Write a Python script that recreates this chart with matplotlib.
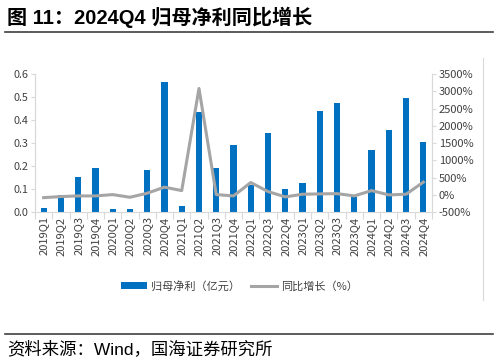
import matplotlib
matplotlib.use("Agg")
import matplotlib.pyplot as plt
from matplotlib.ticker import FixedLocator, FuncFormatter

plt.rcParams['font.family'] = ['Noto Sans CJK SC', 'DejaVu Sans']

quarters = ["2019Q1", "2019Q2", "2019Q3", "2019Q4", "2020Q1", "2020Q2", "2020Q3", "2020Q4",
            "2021Q1", "2021Q2", "2021Q3", "2021Q4", "2022Q1", "2022Q3", "2022Q4",
            "2023Q1", "2023Q2", "2023Q3", "2023Q4", "2024Q1", "2024Q2", "2024Q3", "2024Q4"]
net_profit = [0.017, 0.074, 0.153, 0.193, 0.013, 0.015, 0.185, 0.565,
              0.029, 0.433, 0.193, 0.292, 0.12, 0.345, 0.10,
              0.129, 0.44, 0.473, 0.065, 0.272, 0.355, 0.498, 0.304]
yoy_growth = [-76, -45, -26, -26, 12, -65, 52, 227,
              128, 3082, 12, -26, 361, 100, -55,
              23, 32, 40, -26, 128, 3, 23, 373]
left_ticks = [0.0, 0.1, 0.2, 0.3, 0.4, 0.5, 0.6]
right_ticks = [-500, 0, 500, 1000, 1500, 2000, 2500, 3000, 3500]
legend_labels = ["归母净利（亿元）", "同比增长（%）"]
title = "图 11：2024Q4 归母净利同比增长"
source = "资料来源：Wind，国海证券研究所"

W, H = 498, 362
fig = plt.figure(figsize=(W / 100, H / 100), dpi=100)

def fx(px):
    return px / W

def fy(py):
    return 1 - py / H

left, right, top, bottom = 35, 432, 74, 212.3
ax = fig.add_axes([fx(left), fy(bottom), fx(right - left), (bottom - top) / H])
ax2 = ax.twinx()

blue = "#0070C0"
grey = "#A5A5A5"
axis_grey = "#D9D9D9"
text_col = "#404040"

x = list(range(len(quarters)))
bars = ax.bar(x, net_profit, width=0.36, color=blue, zorder=2)
line, = ax2.plot(x, yoy_growth, color=grey, lw=2.2, zorder=3)

ax.set_xlim(-0.5, len(quarters) - 0.5)
ax.set_ylim(0, 0.6)
ax2.set_ylim(-500, 3500)

ax.set_yticks(left_ticks)
ax.yaxis.set_major_formatter(FuncFormatter(lambda v, p: f"{v:.1f}"))
ax2.set_yticks(right_ticks)
ax2.yaxis.set_major_formatter(FuncFormatter(lambda v, p: f"{int(v)}%"))

ax.set_xticks(x)
ax.set_xticklabels(quarters, rotation=90, fontsize=8, color=text_col)
ax.xaxis.set_minor_locator(FixedLocator([i - 0.5 for i in range(len(quarters) + 1)]))
ax.tick_params(axis='x', which='major', length=0, pad=3)
ax.tick_params(axis='x', which='minor', length=5, color=axis_grey, width=0.8)
ax.tick_params(axis='y', length=3, color=axis_grey, labelsize=7.8, labelcolor=text_col, pad=2)
ax2.tick_params(axis='y', length=3, color=axis_grey, labelsize=8, labelcolor=text_col, pad=2)

for a in (ax, ax2):
    a.spines['top'].set_visible(False)
    for s in ('left', 'right', 'bottom'):
        a.spines[s].set_color(axis_grey)
        a.spines[s].set_linewidth(0.8)
ax2.spines['bottom'].set_visible(False)

fig.legend([bars, line], legend_labels, ncol=2, frameon=False,
           loc='center', bbox_to_anchor=(fx(239), fy(286)),
           fontsize=8, handlelength=2.4, handleheight=0.7, columnspacing=1.0,
           handletextpad=0.3, labelcolor=text_col)

# Title and rules
fig.text(fx(7), fy(17), title, fontsize=14.5, fontweight='bold',
         family=['Liberation Sans', 'Noto Sans CJK SC'], va='center', ha='left', color='black')
fig.add_artist(plt.Line2D([fx(5), fx(493)], [fy(32), fy(32)], color='#404040', lw=1.2))
fig.add_artist(plt.Line2D([fx(5), fx(493)], [fy(334), fy(334)], color='#404040', lw=1.2))
fig.add_artist(plt.Line2D([fx(483), fx(483)], [fy(58), fy(300)], color=axis_grey, lw=0.8))
fig.text(fx(7), fy(349), source, fontsize=12.5,
         family=['Liberation Sans', 'Noto Sans CJK SC'], va='center', ha='left', color='black')

fig.savefig("out.png", dpi=100)
